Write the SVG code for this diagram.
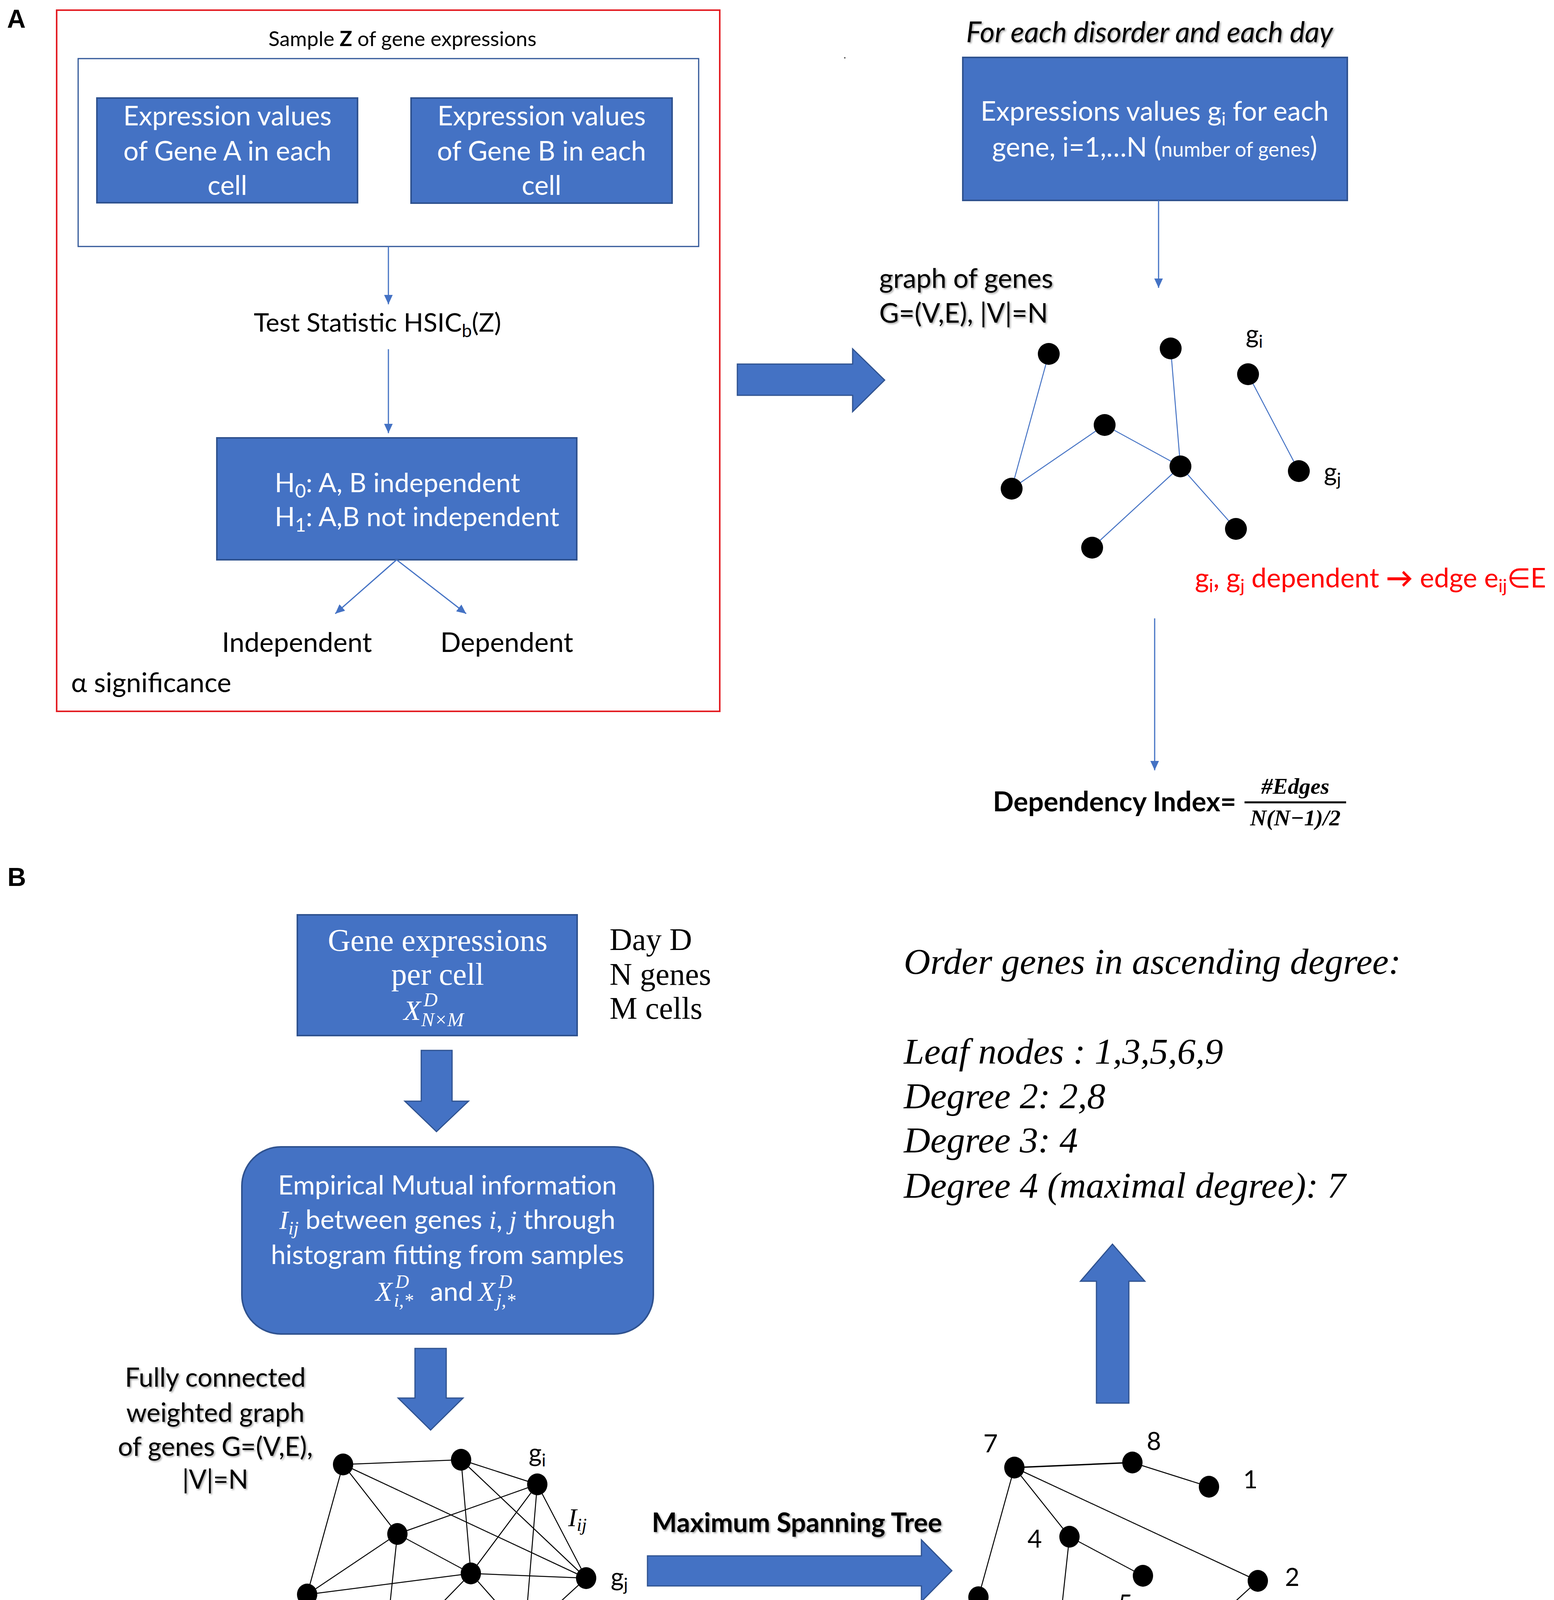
<svg xmlns="http://www.w3.org/2000/svg" width="3977" height="4341" viewBox="0 0 3977 4341">
<defs>
<style>
.c{font-family:Lato,"Open Sans","Liberation Sans",sans-serif;}
.s{font-family:"Liberation Serif","DejaVu Serif",serif;}
.m{font-family:"Liberation Serif","DejaVu Serif",serif;font-style:italic;}
.box{fill:#4472C4;stroke:#2F528F;stroke-width:4;}
.wt{fill:#ffffff;}
.bk{fill:#000000;}
.thin{stroke:#4472C4;stroke-width:3;fill:none;}
.be{stroke:#4472C4;stroke-width:2.5;fill:none;}
.ke{stroke:#000000;stroke-width:2.5;fill:none;}
.big{fill:#4472C4;stroke:#2F528F;stroke-width:3;}
.dot{fill:#000000;}
.lbl{font-family:"Liberation Sans",Arial,sans-serif;font-weight:bold;font-size:66px;}
</style>
<marker id="ah" markerUnits="userSpaceOnUse" markerWidth="26" markerHeight="24" refX="24" refY="11" orient="auto">
<path d="M0,0 L24,11 L0,22 z" fill="#4472C4"/>
</marker>
<filter id="sh" x="-5%" y="-20%" width="110%" height="140%">
<feDropShadow dx="3" dy="3" stdDeviation="2" flood-color="#000000" flood-opacity="0.35"/>
</filter>
</defs>
<rect width="3977" height="4341" fill="#ffffff"/>

<!-- Panel labels -->
<text class="lbl" x="18" y="71">A</text>
<text class="lbl" x="19" y="2268">B</text>

<!-- Panel A left -->
<g id="hsic-frame">
<rect x="145" y="26" width="1697" height="1795" fill="none" stroke="#E31E24" stroke-width="4"/>
<text class="c bk" x="1030" y="118" font-size="53" text-anchor="middle">Sample <tspan font-weight="bold">Z</tspan> of gene expressions</text>
<text class="c bk" x="182" y="1772" font-size="69">α significance</text>
</g>
<g id="sample-box">
<rect x="200" y="150" width="1588" height="481" fill="#ffffff" stroke="#2F5597" stroke-width="3"/>
</g>
<g id="gene-a">
<rect class="box" x="248" y="251" width="667" height="268"/>
<text class="c wt" font-size="69" text-anchor="middle"><tspan x="582" y="321">Expression values</tspan><tspan x="582" y="411">of Gene A in each</tspan><tspan x="582" y="499">cell</tspan></text>
</g>
<g id="gene-b">
<rect class="box" x="1052" y="251" width="668" height="269"/>
<text class="c wt" font-size="69" text-anchor="middle"><tspan x="1386" y="321">Expression values</tspan><tspan x="1386" y="411">of Gene B in each</tspan><tspan x="1386" y="499">cell</tspan></text>
</g>
<g id="test-statistic">
<text class="c bk" x="966" y="849" font-size="66" text-anchor="middle">Test Statistic HSIC<tspan font-size="46" dy="14">b</tspan><tspan dy="-14">(Z)</tspan></text>
</g>
<g id="hypotheses">
<rect class="box" x="555" y="1121" width="921" height="312"/>
<text class="c wt" x="703" y="1260" font-size="68">H<tspan font-size="48" dy="14">0</tspan><tspan dy="-14">: A, B independent</tspan></text>
<text class="c wt" x="703" y="1347" font-size="68">H<tspan font-size="48" dy="14">1</tspan><tspan dy="-14">: A,B not independent</tspan></text>
</g>
<g id="independent"><text class="c bk" x="760" y="1669" font-size="69" text-anchor="middle">Independent</text></g>
<g id="dependent"><text class="c bk" x="1297" y="1669" font-size="69" text-anchor="middle">Dependent</text></g>

<!-- Panel A right -->
<g id="header-a"><text class="c bk" x="2942" y="108" font-size="73" font-style="italic" text-anchor="middle" filter="url(#sh)">For each disorder and each day</text></g>
<circle cx="2162" cy="148" r="2" fill="#555555"/>
<g id="expr-values">
<rect class="box" x="2464" y="147" width="984" height="366"/>
<text class="c wt" x="2955" y="309" font-size="69" text-anchor="middle">Expressions values g<tspan font-size="46" dy="12">i</tspan><tspan dy="-12"> for each</tspan></text>
<text class="c wt" x="2955" y="401" font-size="69" text-anchor="middle">gene, i=1,…N (<tspan font-size="52">number of genes</tspan>)</text>
</g>
<g id="graph-label">
<text class="c bk" font-size="69" filter="url(#sh)"><tspan x="2250" y="737">graph of genes</tspan><tspan x="2250" y="826">G=(V,E), |V|=N</tspan></text>
</g>
<g id="graph-a">
<g class="be">
<line x1="2684" y1="906" x2="2589" y2="1251"/>
<line x1="2589" y1="1251" x2="2827" y2="1088"/>
<line x1="2827" y1="1088" x2="3021" y2="1194"/>
<line x1="2996" y1="892" x2="3021" y2="1194"/>
<line x1="3021" y1="1194" x2="2795" y2="1402"/>
<line x1="3021" y1="1194" x2="3163" y2="1354"/>
<line x1="3194" y1="958" x2="3324" y2="1206"/>
</g>
<g class="dot">
<circle cx="2684" cy="906" r="28"/>
<circle cx="2996" cy="892" r="28"/>
<circle cx="3194" cy="958" r="28"/>
<circle cx="2827" cy="1088" r="28"/>
<circle cx="3021" cy="1194" r="28"/>
<circle cx="2589" cy="1251" r="28"/>
<circle cx="3324" cy="1206" r="28"/>
<circle cx="2795" cy="1402" r="28"/>
<circle cx="3163" cy="1354" r="28"/>
</g>
<text class="c bk" x="3188" y="878" font-size="64">g<tspan font-size="44" dy="12">i</tspan></text>
<text class="c bk" x="3388" y="1231" font-size="64">g<tspan font-size="44" dy="12">j</tspan></text>
</g>
<g id="dependence-rule">
<text class="c" x="3058" y="1504" font-size="69" fill="#FF0000">g<tspan font-size="46" dy="12">i</tspan><tspan dy="-12">, g</tspan><tspan font-size="46" dy="12">j</tspan><tspan dy="-12"> dependent </tspan><tspan font-weight="bold">→</tspan><tspan> edge e</tspan><tspan font-size="46" dy="12">ij</tspan><tspan dy="-12">∈E</tspan></text>
</g>
<g id="dependency-index">
<text class="c bk" x="2541" y="2077" font-size="70" font-weight="bold">Dependency Index=</text>
<line x1="3185" y1="2054" x2="3445" y2="2054" stroke="#000000" stroke-width="5"/>
<text class="m bk" x="3315" y="2032" font-size="58" font-weight="bold" text-anchor="middle">#Edges</text>
<text class="m bk" x="3315" y="2113" font-size="58" font-weight="bold" text-anchor="middle">N(N−1)/2</text>
</g>

<!-- Panel B -->
<g id="gene-expr">
<rect class="box" x="761" y="2342" width="716" height="309"/>
<text class="s wt" font-size="80" text-anchor="middle"><tspan x="1120" y="2434">Gene expressions</tspan><tspan x="1120" y="2521">per cell</tspan></text>
<text class="m wt" x="1033" y="2611" font-size="72">X</text>
<text class="m wt" x="1084" y="2576" font-size="50">D</text>
<text class="m wt" x="1078" y="2627" font-size="50">N×M</text>
</g>
<g id="day-info">
<text class="s bk" font-size="80"><tspan x="1560" y="2432">Day D</tspan><tspan x="1560" y="2521">N genes</tspan><tspan x="1560" y="2608">M cells</tspan></text>
</g>
<g id="mutual-info">
<rect class="box" x="619" y="2936" width="1053" height="479" rx="100" ry="100"/>
<text class="c wt" x="1145" y="3058" font-size="68" text-anchor="middle">Empirical Mutual information</text>
<text class="c wt" x="1145" y="3146" font-size="68" text-anchor="middle"><tspan class="m">I</tspan><tspan class="m" font-size="48" dy="14">ij</tspan><tspan dy="-14"> between genes </tspan><tspan class="m">i</tspan>, <tspan class="m">j</tspan> through</text>
<text class="c wt" x="1145" y="3236" font-size="68" text-anchor="middle">histogram fitting from samples</text>
<text class="m wt" x="961" y="3330" font-size="70">X</text>
<text class="m wt" x="1012" y="3297" font-size="48">D</text>
<text class="m wt" x="1008" y="3345" font-size="48">i,*</text>
<text class="c wt" x="1101" y="3330" font-size="68">and</text>
<text class="m wt" x="1224" y="3330" font-size="70">X</text>
<text class="m wt" x="1276" y="3297" font-size="48">D</text>
<text class="m wt" x="1270" y="3345" font-size="48">j,*</text>
</g>
<g id="full-graph-label">
<text class="c bk" font-size="67" text-anchor="middle" filter="url(#sh)"><tspan x="551" y="3550">Fully connected</tspan><tspan x="551" y="3640">weighted graph</tspan><tspan x="551" y="3727">of genes G=(V,E),</tspan><tspan x="551" y="3811">|V|=N</tspan></text>
</g>
<g id="full-graph">
<g class="ke">
<line x1="878" y1="3749" x2="1180" y2="3737"/>
<line x1="878" y1="3749" x2="1017" y2="3927"/>
<line x1="878" y1="3749" x2="1500" y2="4040"/>
<line x1="878" y1="3749" x2="786" y2="4082"/>
<line x1="1180" y1="3737" x2="1375" y2="3800"/>
<line x1="1180" y1="3737" x2="1205" y2="4028"/>
<line x1="1180" y1="3737" x2="1500" y2="4040"/>
<line x1="1375" y1="3800" x2="1017" y2="3927"/>
<line x1="1375" y1="3800" x2="1205" y2="4028"/>
<line x1="1375" y1="3800" x2="1343" y2="4184"/>
<line x1="1375" y1="3800" x2="1500" y2="4040"/>
<line x1="1017" y1="3927" x2="786" y2="4082"/>
<line x1="1017" y1="3927" x2="1205" y2="4028"/>
<line x1="1017" y1="3927" x2="982" y2="4257"/>
<line x1="1205" y1="4028" x2="786" y2="4082"/>
<line x1="1205" y1="4028" x2="1500" y2="4040"/>
<line x1="1205" y1="4028" x2="1343" y2="4184"/>
<line x1="1205" y1="4028" x2="982" y2="4257"/>
<line x1="1343" y1="4184" x2="982" y2="4257"/>
<line x1="1343" y1="4184" x2="1500" y2="4040"/>
<line x1="786" y1="4082" x2="982" y2="4257"/>
</g>
<g class="dot">
<ellipse cx="878" cy="3749" rx="26" ry="28"/>
<ellipse cx="1180" cy="3737" rx="26" ry="28"/>
<ellipse cx="1375" cy="3800" rx="26" ry="28"/>
<ellipse cx="1017" cy="3927" rx="26" ry="28"/>
<ellipse cx="1205" cy="4028" rx="26" ry="28"/>
<ellipse cx="1500" cy="4040" rx="26" ry="28"/>
<ellipse cx="786" cy="4082" rx="26" ry="28"/>
<ellipse cx="1343" cy="4184" rx="26" ry="28"/>
<ellipse cx="982" cy="4257" rx="26" ry="28"/>
</g>
<text class="c bk" x="1353" y="3742" font-size="64">g<tspan font-size="44" dy="12">i</tspan></text>
<text class="m bk" x="1454" y="3907" font-size="66">I<tspan font-size="46" dy="12">ij</tspan></text>
<text class="c bk" x="1563" y="4060" font-size="64">g<tspan font-size="44" dy="12">j</tspan></text>
</g>
<g id="mst-label"><text class="c bk" x="1668" y="3922" font-size="68" font-weight="bold" filter="url(#sh)">Maximum Spanning Tree</text></g>
<g id="tree">
<g class="ke">
<line x1="2596" y1="3757" x2="2898" y2="3744" stroke-width="3.5"/>
<line x1="2898" y1="3744" x2="3094" y2="3806"/>
<line x1="2596" y1="3757" x2="2504" y2="4089"/>
<line x1="2596" y1="3757" x2="2737" y2="3934"/>
<line x1="2596" y1="3757" x2="3219" y2="4047"/>
<line x1="2737" y1="3934" x2="2925" y2="4034"/>
<line x1="2737" y1="3934" x2="2701" y2="4265"/>
<line x1="3219" y1="4047" x2="3061" y2="4191"/>
</g>
<g class="dot">
<ellipse cx="2596" cy="3757" rx="26" ry="28"/>
<ellipse cx="2898" cy="3744" rx="26" ry="28"/>
<ellipse cx="3094" cy="3806" rx="26" ry="28"/>
<ellipse cx="2737" cy="3934" rx="26" ry="28"/>
<ellipse cx="2925" cy="4034" rx="26" ry="28"/>
<ellipse cx="3219" cy="4047" rx="26" ry="28"/>
<ellipse cx="2504" cy="4089" rx="26" ry="28"/>
<ellipse cx="3061" cy="4191" rx="26" ry="28"/>
<ellipse cx="2701" cy="4265" rx="26" ry="28"/>
</g>
<g class="c bk" font-size="64" text-anchor="middle">
<text x="2535" y="3718">7</text>
<text x="2953" y="3712">8</text>
<text x="3200" y="3810">1</text>
<text x="2648" y="3962">4</text>
<text x="2880" y="4128">5</text>
<text x="3307" y="4060">2</text>
<text x="2481" y="4187">3</text>
<text x="3118" y="4258">9</text>
<text x="2766" y="4326">6</text>
</g>
</g>
<g id="degree-order">
<text class="m bk" font-size="94"><tspan x="2313" y="2493">Order genes in ascending degree:</tspan><tspan x="2313" y="2723">Leaf nodes : 1,3,5,6,9</tspan><tspan x="2313" y="2837">Degree 2: 2,8</tspan><tspan x="2313" y="2950">Degree 3: 4</tspan><tspan x="2313" y="3066">Degree 4 (maximal degree): 7</tspan></text>
</g>

<!-- Connectors -->
<g id="connectors">
<line class="thin" x1="994" y1="631" x2="994" y2="779" marker-end="url(#ah)"/>
<line class="thin" x1="994" y1="894" x2="994" y2="1109" marker-end="url(#ah)"/>
<line class="thin" x1="1015" y1="1433" x2="858" y2="1571" marker-end="url(#ah)"/>
<line class="thin" x1="1015" y1="1433" x2="1193" y2="1571" marker-end="url(#ah)"/>
<line class="thin" x1="2965" y1="513" x2="2965" y2="737" marker-end="url(#ah)"/>
<line class="thin" x1="2955" y1="1583" x2="2955" y2="1972" marker-end="url(#ah)"/>
<polygon class="big" points="1887,932 2182,932 2182,893 2264,973 2182,1054 2182,1012 1887,1012"/>
<polygon class="big" points="1078,2689 1157,2689 1157,2819 1199,2819 1117,2897 1036,2819 1078,2819"/>
<polygon class="big" points="1062,3452 1142,3452 1142,3579 1185,3579 1102,3661 1019,3579 1062,3579"/>
<polygon class="big" points="1657,3983 2358,3983 2358,3942 2436,4021 2358,4100 2358,4060 1657,4060"/>
<polygon class="big" points="2806,3592 2806,3280 2765,3280 2847,3185 2930,3280 2889,3280 2889,3592"/>
</g>
</svg>
